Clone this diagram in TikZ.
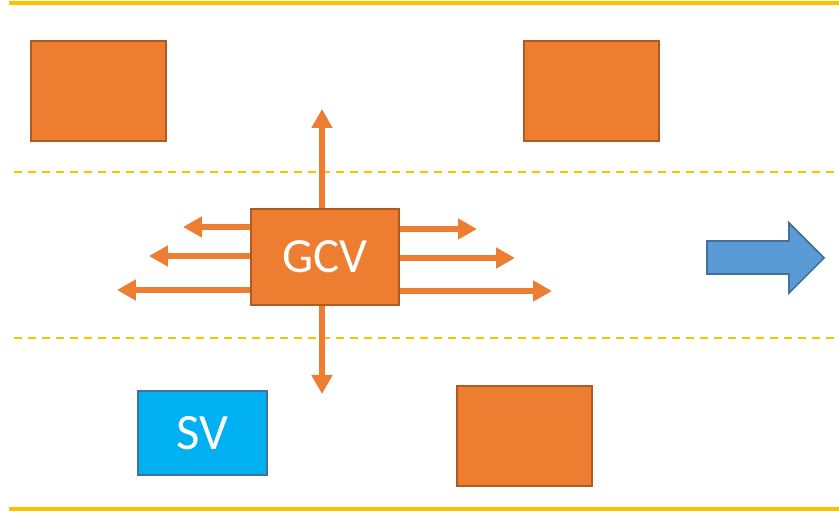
\documentclass[tikz,border=0pt]{standalone}
\usepackage{fontspec}
\setmainfont{Carlito}
\usetikzlibrary{arrows.meta,positioning}
\definecolor{carorange}{HTML}{ED7D31}
\definecolor{carborder}{HTML}{AE5A21}
\definecolor{svblue}{HTML}{00B0F0}
\definecolor{arrowblue}{HTML}{5B9BD5}
\definecolor{blueborder}{HTML}{41719C}
\definecolor{lane}{HTML}{FFC000}
\tikzset{
    % one unit is one pixel of the drawing
    car/.style={
      rectangle,
      fill=carorange,
      draw=carborder, line width=1.1pt,
      anchor=north west,
      minimum width=2.7cm,
      minimum height=2cm,
      inner sep=0pt},
    egocar/.style={
      car,
      minimum width=2.96cm,
      minimum height=1.92cm,
      text=white,
      font=\fontsize{28}{30}\selectfont},
    svcar/.style={
      car,
      fill=svblue,
      draw=blueborder,
      minimum width=2.58cm,
      minimum height=1.68cm,
      text=white,
      font=\fontsize{29}{31}\selectfont},
    border/.style={draw=lane, line width=2.3pt},
    lanemark/.style={draw=lane, line width=0.9pt, dash pattern=on 0.16cm off 0.12cm},
    move/.style={
      draw=carorange, line width=2.9pt,
      -{Triangle[length=0.38cm,width=0.4cm]}},
}
\begin{document}
\begin{tikzpicture}[x=0.02cm,y=-0.02cm]
    \useasboundingbox (0,0) rectangle (839,516);
    % road borders and lane markings
    \draw[border] (9,3) -- (839,3);
    \draw[border] (9,509) -- (839,509);
    \draw[lanemark] (14,172) -- (839,172);
    \draw[lanemark] (14,338) -- (839,338);

    % surrounding cars
    \node (car1) [car] at (30,40) {};
    \node (car2) [car] at (523,40) {};
    \node (car3) [car] at (456,385) {};
    \node (sv) [svcar] at (137,390) {SV};
    \node (gcv) [egocar] at (250,208) {GCV};

    % possible moves of the GCV
    \coordinate (up) at (322,109);
    \coordinate (down) at (322,394);
    \coordinate (l1) at (183,227);
    \coordinate (l2) at (149,256);
    \coordinate (l3) at (117,290);
    \coordinate (r1) at (477,229);
    \coordinate (r2) at (515,258);
    \coordinate (r3) at (552,291);
    \draw[move] (gcv.north -| up) -- (up);
    \draw[move] (gcv.south -| down) -- (down);
    \foreach \c in {l1,l2,l3}
      \draw[move] (gcv.west |- \c) -- (\c);
    \foreach \c in {r1,r2,r3}
      \draw[move] (gcv.east |- \c) -- (\c);

    % driving direction
    \draw[fill=arrowblue, draw=blueborder, line width=1pt]
      (707,241) -- (789,241) -- (789,223) -- (824,258)
      -- (789,293) -- (789,274) -- (707,274) -- cycle;
\end{tikzpicture}
\end{document}
